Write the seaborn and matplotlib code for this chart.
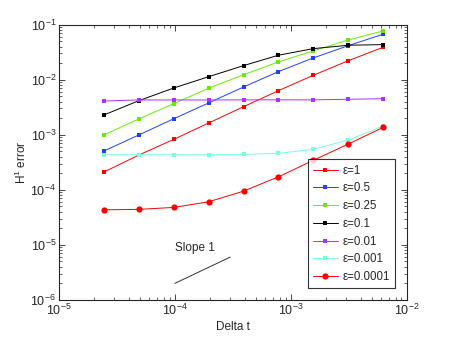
import numpy as np
import pandas as pd
import matplotlib
matplotlib.use("Agg")
import matplotlib.pyplot as plt
import seaborn as sns

# Paso de tiempo (Delta t)
dt = [2.44e-5, 4.88e-5, 9.77e-5, 1.95e-4, 3.91e-4, 7.81e-4, 1.56e-3, 3.13e-3, 6.25e-3]

# Error H1 para cada epsilon
err_1 = [2.1e-4, 4.27e-4, 8.24e-4, 1.63e-3, 3.23e-3, 6.31e-3, 1.2e-2, 2.21e-2, 3.88e-2]
err_05 = [5.06e-4, 9.9e-4, 1.95e-3, 3.77e-3, 7.36e-3, 1.4e-2, 2.48e-2, 4.15e-2, 6.69e-2]
err_025 = [9.9e-4, 1.93e-3, 3.67e-3, 6.98e-3, 1.23e-2, 2.1e-2, 3.33e-2, 5.27e-2, 7.68e-2]
err_01 = [2.28e-3, 4.15e-3, 7.06e-3, 1.13e-2, 1.8e-2, 2.78e-2, 3.66e-2, 4.22e-2, 4.33e-2]
err_001 = [4.1e-3, 4.28e-3, 4.28e-3, 4.28e-3, 4.3e-3, 4.3e-3, 4.3e-3, 4.4e-3, 4.52e-3]
err_0001 = [4.33e-4, 4.33e-4, 4.33e-4, 4.33e-4, 4.4e-4, 4.59e-4, 5.43e-4, 8.02e-4, 1.44e-3]
err_00001 = [4.33e-5, 4.41e-5, 4.79e-5, 6.05e-5, 9.46e-5, 1.72e-4, 3.43e-4, 6.78e-4, 1.36e-3]

etiquetas = ["ε=1", "ε=0.5", "ε=0.25", "ε=0.1", "ε=0.01", "ε=0.001", "ε=0.0001"]
errores = [err_1, err_05, err_025, err_01, err_001, err_0001, err_00001]
colores = ["#ff0000", "#2040ff", "#66ee00", "#000000", "#b030ff", "#78ffdc", "#ff0000"]
marcadores = ["s", "s", "s", "s", "s", "s", "o"]

# Linea de referencia pendiente 1
pend_x = [1e-4, 3e-4]
pend_y = [2e-6, 6e-6]

sns.set_style("ticks")
plt.rcParams["font.family"] = ["Liberation Sans", "DejaVu Sans"]
plt.rcParams["mathtext.fontset"] = "custom"
plt.rcParams["mathtext.rm"] = "Liberation Sans"
plt.rcParams["mathtext.it"] = "Liberation Sans"

fig = plt.figure(figsize=(4.5, 3.37), dpi=100)
ax = fig.add_axes([0.131, 0.110, 0.773, 0.817])

for etiqueta, err, color, marcador in zip(etiquetas, errores, colores, marcadores):
    df = pd.DataFrame({"dt": dt, "err": err})
    sns.lineplot(data=df, x="dt", y="err", ax=ax, color=color, marker=marcador,
                 markersize=4.5 if marcador == "o" else 3.5, markeredgewidth=0,
                 linewidth=0.7, alpha=1.0, label=etiqueta)

ax.plot(pend_x, pend_y, color="#333333", linewidth=0.7)
ax.text(1e-4, 6.8e-6, "Slope 1", fontsize=8.5, va="bottom", ha="left")

ax.set_xscale("log")
ax.set_yscale("log")
ax.set_xlim(1e-5, 1e-2)
ax.set_ylim(1e-6, 1e-1)
ax.set_xlabel("Delta t", fontsize=8.5, labelpad=2)
ax.set_ylabel("H$^1$ error", fontsize=8.5, labelpad=1)

ax.tick_params(which="both", direction="in", top=True, right=True, labelsize=9, pad=2)
ax.tick_params(which="major", length=4, width=0.6)
ax.tick_params(which="minor", length=2, width=0.5)
for s in ax.spines.values():
    s.set_linewidth(0.8)

leg = ax.legend(loc="lower right", fontsize=8.3, frameon=True, fancybox=False,
                edgecolor="black", borderaxespad=1.0, handlelength=2.2,
                labelspacing=0.5, borderpad=0.45, handletextpad=0.4)
leg.get_frame().set_linewidth(0.8)

fig.savefig("out.png", dpi=100)
